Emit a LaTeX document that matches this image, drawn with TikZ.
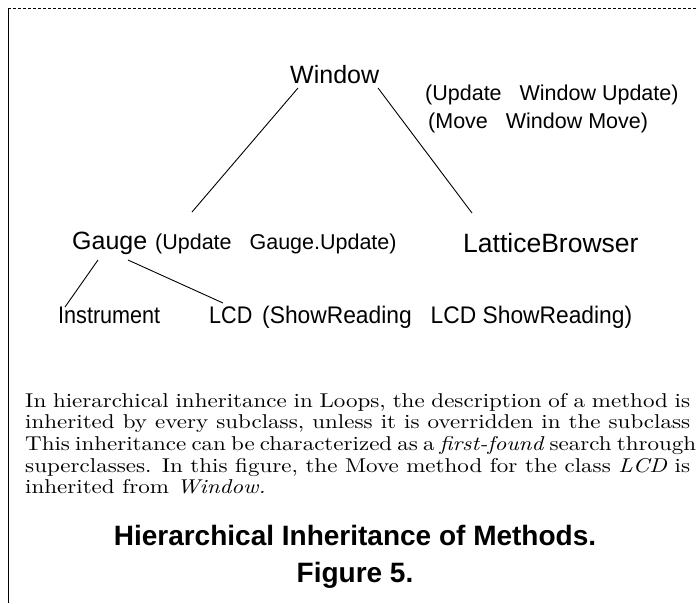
\documentclass[tikz,border=0pt]{standalone}
\usepackage{fontspec}
\newfontfamily\lsans{Liberation Sans}
\newfontfamily\lsansn[FakeStretch=0.9]{Liberation Sans}
\newfontfamily\lsansm[FakeStretch=0.95]{Liberation Sans}
\newfontfamily\tbold{Liberation Sans}
\newfontfamily\capfont[FakeStretch=1.15,Extension=.otf,UprightFont=*-regular,ItalicFont=*-italic]{lmroman10}
\begin{document}
\begin{tikzpicture}[x=1pt,y=-1pt,
  cls/.style={inner sep=0pt,anchor=base west,font=\lsans\fontsize{25}{30}\selectfont},
  meth/.style={inner sep=0pt,anchor=base west,font=\lsans\fontsize{21.5}{26}\selectfont},
  lowcls/.style={inner sep=0pt,anchor=base west,font=\lsansn\fontsize{24}{28}\selectfont},
  lowmeth/.style={inner sep=0pt,anchor=base west,font=\lsansm\fontsize{24}{28}\selectfont},
  capt/.style={inner sep=0pt,anchor=base west,font=\capfont\fontsize{20}{22}\selectfont},
  ttl/.style={inner sep=0pt,anchor=base,font=\tbold\bfseries\fontsize{28}{32}\selectfont},
  link/.style={line width=0.9pt}]
\useasboundingbox (0,0) rectangle (698,603);
% frame
\draw[densely dashed,line width=0.8pt] (8,8) -- (698,8);
\draw[line width=0.8pt] (8,8) -- (8,603);
% nodes
\node[cls] (win) at (290,83) {Window};
\node[meth] (updw) at (425,100) {(Update\ \ \ Window Update)};
\node[meth] (movw) at (428,128) {(Move\ \ \ Window Move)};
\node[cls] (gauge) at (72,249) {Gauge};
\node[meth] (updg) at (155,249) {(Update\ \ \ Gauge.Update)};
\node[cls,font=\lsans\fontsize{26.5}{30}\selectfont] (lb) at (463,252) {LatticeBrowser};
\node[lowcls] (inst) at (58,323) {Instrument};
\node[lowcls] (lcd) at (209,323) {LCD};
\node[lowmeth] (show) at (262,323) {(ShowReading\ \ \ LCD ShowReading)};
% connector ends
\coordinate (wl) at (298,88);
\coordinate (wr) at (378,88);
\coordinate (gt) at (192,212);
\coordinate (lt) at (472,213);
\coordinate (gl) at (98,260);
\coordinate (gr) at (128,260);
\coordinate (it) at (65,307);
\coordinate (ct) at (223,303);
\draw[link] (wl) -- (gt);
\draw[link] (wr) -- (lt);
\draw[link] (gl) -- (it);
\draw[link] (gr) -- (ct);
% caption
\node[capt] (c1) at (25,407) {\makebox[665pt][s]{In hierarchical inheritance in Loops, the description of a method is}};
\node[capt] (c2) at (25,428) {\makebox[665pt][s]{inherited by every subclass, unless it is overridden in the subclass}};
\node[capt] (c3) at (25,450) {\makebox[665pt][s]{This inheritance can be characterized as a \textit{first-found} search through}};
\node[capt] (c4) at (25,472) {\makebox[665pt][s]{superclasses. In this figure, the Move method for the class \textit{LCD} is}};
\node[capt] (c5) at (25,493) {inherited from \textit{Window.}};
\node[ttl] (t1) at (355,545) {Hierarchical Inheritance of Methods.};
\node[ttl] (t2) at (355,582) {Figure 5.};
\end{tikzpicture}
\end{document}
